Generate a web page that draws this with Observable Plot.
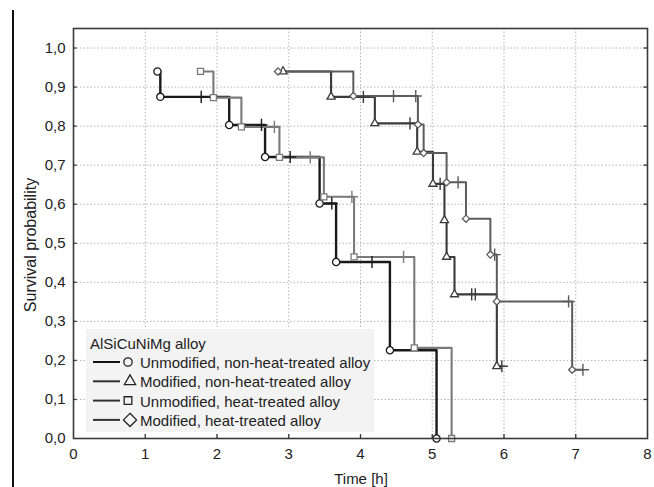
<!DOCTYPE html>
<html>
<head>
<meta charset="utf-8">
<script src="https://cdn.jsdelivr.net/npm/d3@7"></script>
<script src="https://cdn.jsdelivr.net/npm/@observablehq/plot@0.6"></script>
<style>
  html, body { margin: 0; padding: 0; background: #fff; }
  #wrap { position: relative; width: 654px; height: 487px; overflow: hidden; font-family: "Liberation Sans", Arial, sans-serif; }
  #edge { position: absolute; left: 12px; top: 10px; width: 1.5px; height: 477px; background: #111; }
  .lab { position: absolute; font-size: 15px; color: #222; white-space: nowrap; line-height: 15px; }
</style>
</head>
<body>
<div id="wrap"><div id="edge"></div></div>
<script>
// ---- data ----
const xTicks = [0, 1, 2, 3, 4, 5, 6, 7, 8];
const yTicks = [0, 0.1, 0.2, 0.3, 0.4, 0.5, 0.6, 0.7, 0.8, 0.9, 1.0];
const yTickLabels = ["0,0", "0,1", "0,2", "0,3", "0,4", "0,5", "0,6", "0,7", "0,8", "0,9", "1,0"];

const legendTitle = "AlSiCuNiMg alloy";
const seriesNames = [
  "Unmodified, non-heat-treated alloy",
  "Modified, non-heat-treated alloy",
  "Unmodified, heat-treated alloy",
  "Modified, heat-treated alloy"
];
const seriesSymbols = ["circle", "triangle", "square", "diamond2"];
const seriesColors = ["#1a1a1a", "#3a3a3a", "#7a7a7a", "#5c5c5c"];

// failure events (time, survival after the event)
const unmodNonHT_t = [1.17, 1.21, 2.17, 2.67, 3.43, 3.66, 4.41, 5.06];
const unmodNonHT_s = [0.94, 0.875, 0.803, 0.721, 0.602, 0.452, 0.226, 0];
const unmodNonHT_ct = [1.78, 2.62, 3.02, 3.6, 4.16];
const unmodNonHT_cs = [0.875, 0.803, 0.721, 0.602, 0.452];

const modNonHT_t = [2.92, 3.59, 4.2, 4.79, 5.01, 5.17, 5.2, 5.31, 5.9];
const modNonHT_s = [0.94, 0.875, 0.807, 0.734, 0.652, 0.559, 0.465, 0.369, 0.185];
const modNonHT_ct = [4.04, 4.69, 5.11, 5.55, 5.6, 5.97];
const modNonHT_cs = [0.875, 0.807, 0.652, 0.369, 0.369, 0.185];

const unmodHT_t = [1.77, 1.95, 2.34, 2.87, 3.49, 3.91, 4.75, 5.27];
const unmodHT_s = [0.94, 0.873, 0.798, 0.72, 0.619, 0.465, 0.232, 0];
const unmodHT_ct = [2.8, 3.3, 3.88, 4.6];
const unmodHT_cs = [0.798, 0.72, 0.619, 0.465];

const modHT_t = [2.85, 3.9, 4.8, 4.88, 5.2, 5.47, 5.81, 5.9, 6.95];
const modHT_s = [0.94, 0.877, 0.804, 0.731, 0.656, 0.563, 0.471, 0.351, 0.176];
const modHT_ct = [4.46, 4.77, 5.36, 5.87, 6.9, 7.1];
const modHT_cs = [0.877, 0.877, 0.656, 0.471, 0.351, 0.176];

// ---- build tables ----
const eventsT = [unmodNonHT_t, modNonHT_t, unmodHT_t, modHT_t];
const eventsS = [unmodNonHT_s, modNonHT_s, unmodHT_s, modHT_s];
const censT = [unmodNonHT_ct, modNonHT_ct, unmodHT_ct, modHT_ct];
const censS = [unmodNonHT_cs, modNonHT_cs, unmodHT_cs, modHT_cs];

const events = [], censored = [], paths = [];
seriesNames.forEach((name, i) => {
  events.push(eventsT[i].map((t, j) => ({series: name, t, s: eventsS[i][j]})));
  censT[i].forEach((t, j) => censored.push({series: name, t, s: censS[i][j]}));
  const p = eventsT[i].map((t, j) => ({series: name, t, s: eventsS[i][j]}));
  const lastEv = eventsT[i][eventsT[i].length - 1];
  const lastC = d3.max(censT[i]);
  if (lastC > lastEv) p.push({series: name, t: lastC, s: eventsS[i][eventsS[i].length - 1]});
  paths.push(p);
});

const widths = [2.4, 2.1, 2.1, 2.0];
const dotR = [3.6, 3.0, 3.4, 3.2];
const fmtY = d => yTickLabels[yTicks.findIndex(v => Math.abs(v - d) < 1e-9)];

const chart = Plot.plot({
  width: 654,
  height: 487,
  marginLeft: 73,
  marginRight: 7,
  marginTop: 28,
  marginBottom: 49,
  style: {fontFamily: "'Liberation Sans', Arial, sans-serif", fontSize: "15px", color: "#222", background: "transparent"},
  x: {type: "linear", domain: [0, 8]},
  y: {type: "linear", domain: [0, 1.05]},
  color: {domain: seriesNames, range: seriesColors},
  symbol: {domain: seriesNames, range: seriesSymbols},
  marks: [
    Plot.gridX(xTicks.slice(1, -1), {stroke: "#b4b4b4", strokeOpacity: 1, strokeDasharray: "1.5,2"}),
    Plot.gridY(yTicks.slice(1), {stroke: "#b4b4b4", strokeOpacity: 1, strokeDasharray: "1.5,2"}),
    Plot.axisX(xTicks, {tickSize: 0, tickPadding: 10, fontSize: 15, label: null}),
    Plot.axisY(yTicks, {tickSize: 0, tickPadding: 8, fontSize: 15, label: null, tickFormat: fmtY}),
    // small inward ticks
    Plot.ruleX(xTicks.slice(1, -1), {y1: 0, y2: 0.01, stroke: "#333", strokeWidth: 1.3}),
    Plot.ruleY(yTicks.slice(1), {x1: 0, x2: 0.05, stroke: "#333", strokeWidth: 1.3}),
    Plot.ruleY(yTicks.slice(1), {x1: 7.95, x2: 8, stroke: "#333", strokeWidth: 1.3}),
    ...paths.map((p, i) => Plot.line(p, {x: "t", y: "s", stroke: "series", strokeWidth: widths[i], curve: "step-after"})),
    Plot.dot(censored, {x: "t", y: "s", symbol: () => "plus", stroke: "series", r: 4, strokeWidth: 1.4}),
    ...events.map((e, i) => Plot.dot(e, {x: "t", y: "s", symbol: "series", stroke: "series", fill: "white", r: dotR[i], strokeWidth: 1.3})),
    Plot.frame({stroke: "#3a3a3a", strokeWidth: 1.6})
  ]
});
chart.style.position = "absolute";
chart.style.left = "0px";
chart.style.top = "0px";
const wrap = document.getElementById("wrap");
wrap.appendChild(chart);

// axis titles
const xl = document.createElement("div");
xl.className = "lab";
xl.textContent = "Time [h]";
xl.style.left = "361px";
xl.style.top = "471px";
xl.style.transform = "translateX(-50%)";
wrap.appendChild(xl);

const yl = document.createElement("div");
yl.className = "lab";
yl.textContent = "Survival probability";
yl.style.fontSize = "16px";
yl.style.left = "30px";
yl.style.top = "245px";
yl.style.transform = "translate(-50%, -50%) rotate(-90deg)";
wrap.appendChild(yl);

// legend
const lg = d3.select(wrap).append("svg")
  .attr("width", 290).attr("height", 104)
  .style("position", "absolute").style("left", "86px").style("top", "329px");
lg.append("rect").attr("x", 0).attr("y", 0).attr("width", 288).attr("height", 103).attr("fill", "#f3f3f3");
lg.append("text").attr("x", 4).attr("y", 20).attr("font-size", 15).attr("fill", "#222")
  .attr("font-family", "'Liberation Sans', Arial, sans-serif").text(legendTitle);
const symMap = {circle: d3.symbolCircle, triangle: d3.symbolTriangle2, square: d3.symbolSquare2, diamond2: d3.symbolDiamond2};
const symSize = {circle: 55, triangle: 90, square: 75, diamond2: 110};
seriesNames.forEach((name, i) => {
  const base = 39 + i * 19.3;
  const cy = base - 6;
  const g = lg.append("g");
  g.append("line").attr("x1", 7).attr("x2", 34).attr("y1", cy).attr("y2", cy)
    .attr("stroke", i === 0 ? "#111" : "#333").attr("stroke-width", 2);
  g.append("path").attr("transform", `translate(${i === 1 || i === 3 ? 44 : 42},${cy})`)
    .attr("d", d3.symbol(symMap[seriesSymbols[i]], symSize[seriesSymbols[i]])())
    .attr("fill", "none").attr("stroke", "#222").attr("stroke-width", 1.3);
  g.append("text").attr("x", 54).attr("y", base).attr("font-size", 15).attr("fill", "#222")
    .attr("font-family", "'Liberation Sans', Arial, sans-serif").text(name);
});
</script>
</body>
</html>
